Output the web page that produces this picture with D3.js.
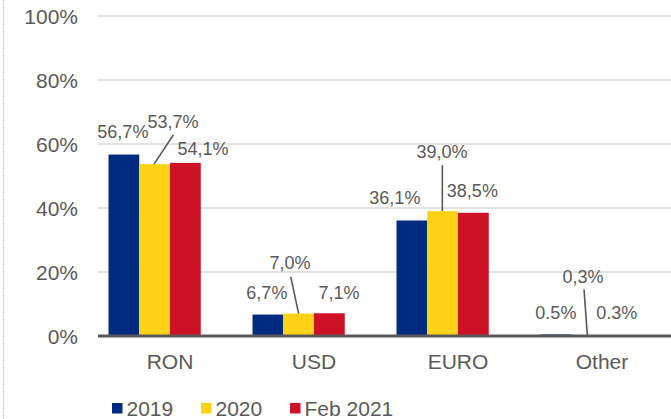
<!DOCTYPE html>
<html>
<head>
<meta charset="utf-8">
<script src="https://cdn.jsdelivr.net/npm/d3@7"></script>
<style>
  html, body { margin: 0; padding: 0; background: #fff; }
  svg { display: block; font-family: "Liberation Sans", Arial, sans-serif; }
</style>
</head>
<body>
<svg id="chart" width="671" height="419"></svg>
<script>
const categories = ["RON", "USD", "EURO", "Other"];
const seriesNames = ["2019", "2020", "Feb 2021"];
const values2019 = [56.7, 6.7, 36.1, 0.5];
const values2020 = [53.7, 7.0, 39.0, 0.3];
const valuesFeb2021 = [54.1, 7.1, 38.5, 0.3];
const labels2019 = ["56,7%", "6,7%", "36,1%", "0.5%"];
const labels2020 = ["53,7%", "7,0%", "39,0%", "0,3%"];
const labelsFeb2021 = ["54,1%", "7,1%", "38,5%", "0.3%"];
const yTicks = [0, 20, 40, 60, 80, 100];
const colors = ["#002B7F", "#FCD116", "#CE1126"];

const seriesValues = [values2019, values2020, valuesFeb2021];
const seriesLabels = [labels2019, labels2020, labelsFeb2021];

const svg = d3.select("#chart");
const textColor = "#595959";

// Left dashed frame edge
svg.append("line")
  .attr("x1", 3.5).attr("x2", 3.5).attr("y1", 0).attr("y2", 419)
  .attr("stroke", "#c8c8c8").attr("stroke-width", 1)
  .attr("stroke-dasharray", "2,1");

const y = d3.scaleLinear().domain([0, 100]).range([336, 16]);
const x0 = d3.scaleBand().domain(categories).range([98, 674]).paddingInner(0).paddingOuter(0);
// four slots per group (fourth slot empty, as in the source chart)
const x1 = d3.scaleBand().domain([...seriesNames, "_"]).range([10.5, 133.5]).padding(0);

// Gridlines
svg.append("g").selectAll("line").data(yTicks.filter(t => t > 0)).join("line")
  .attr("x1", 98).attr("x2", 671)
  .attr("y1", d => y(d)).attr("y2", d => y(d))
  .attr("stroke", "#d9d9d9").attr("stroke-width", 1.5);

// Y axis labels
const yAxis = d3.axisLeft(y).tickValues(yTicks).tickFormat(d => d + "%").tickSize(0).tickPadding(0);
const gy = svg.append("g").attr("transform", "translate(78,0)").call(yAxis);
gy.select(".domain").remove();
gy.selectAll("text").attr("fill", textColor).style("font-size", "21px")
  .style("font-family", "'Liberation Sans', Arial, sans-serif").attr("dy", "0.36em");

// Bars
const rows = [];
seriesNames.forEach((s, si) => {
  categories.forEach((c, ci) => {
    rows.push({ s, si, c, ci, v: seriesValues[si][ci], label: seriesLabels[si][ci] });
  });
});

svg.append("g").selectAll("rect").data(rows).join("rect")
  .attr("x", d => x0(d.c) + x1(d.s))
  .attr("width", x1.bandwidth())
  .attr("y", d => y(d.v))
  .attr("height", d => y(0) - y(d.v))
  .attr("fill", d => colors[d.si]);

// X axis
const xAxis = d3.axisBottom(x0).tickSize(0).tickPadding(0);
const gx = svg.append("g").attr("transform", "translate(0,336)").call(xAxis);
gx.select(".domain").remove();
gx.selectAll("text").attr("fill", textColor).style("font-size", "21px")
  .style("font-family", "'Liberation Sans', Arial, sans-serif")
  .attr("y", 25).attr("dy", "0.36em");

svg.append("line").attr("x1", 98).attr("x2", 671).attr("y1", 336).attr("y2", 336)
  .attr("stroke", "#595959").attr("stroke-width", 3);

// Data labels (label offsets relative to bar centre / bar top, as placed in the source)
const labelOffsets = {
  "2019": [[-1, -22.6], [-1, -21.6], [-17, -23], [0, -22]],
  "2020": [[18.4, -43], [-8.6, -50.6], [-0.6, -60], [-3.6, -59]],
  "Feb 2021": [[17.6, -14], [9.6, -20.3], [-1, -22], [-0.7, -22.5]]
};
const leaders = {
  "2020": [[[18.7, -29.2], [-0.6, 0]], [[-7.9, -37], [0, 0]], [[-0.3, -46], [-0.3, 0]], [[-2.6, -45.7], [0.7, 0]]]
};

const lab = svg.append("g");
rows.forEach(d => {
  const cx = x0(d.c) + x1(d.s) + x1.bandwidth() / 2;
  const ty = y(d.v);
  const off = labelOffsets[d.s][d.ci];
  lab.append("text")
    .attr("x", cx + off[0]).attr("y", ty + off[1])
    .attr("text-anchor", "middle").attr("dy", "0.36em")
    .attr("fill", textColor).style("font-size", "18px")
    .text(d.label);
  if (leaders[d.s]) {
    const L = leaders[d.s][d.ci];
    lab.append("line")
      .attr("x1", cx + L[0][0]).attr("y1", ty + L[0][1])
      .attr("x2", cx + L[1][0]).attr("y2", ty + L[1][1])
      .attr("stroke", textColor).attr("stroke-width", 1.6);
  }
});

// Legend
const legendX = [112, 201, 290];
const lg = svg.append("g");
seriesNames.forEach((s, i) => {
  lg.append("rect").attr("x", legendX[i]).attr("y", 403).attr("width", 10.5).attr("height", 10.5)
    .attr("fill", colors[i]);
  lg.append("text").attr("x", legendX[i] + 14.5).attr("y", 408).attr("dy", "0.36em")
    .attr("fill", textColor).style("font-size", "21px").text(s);
});
</script>
</body>
</html>
